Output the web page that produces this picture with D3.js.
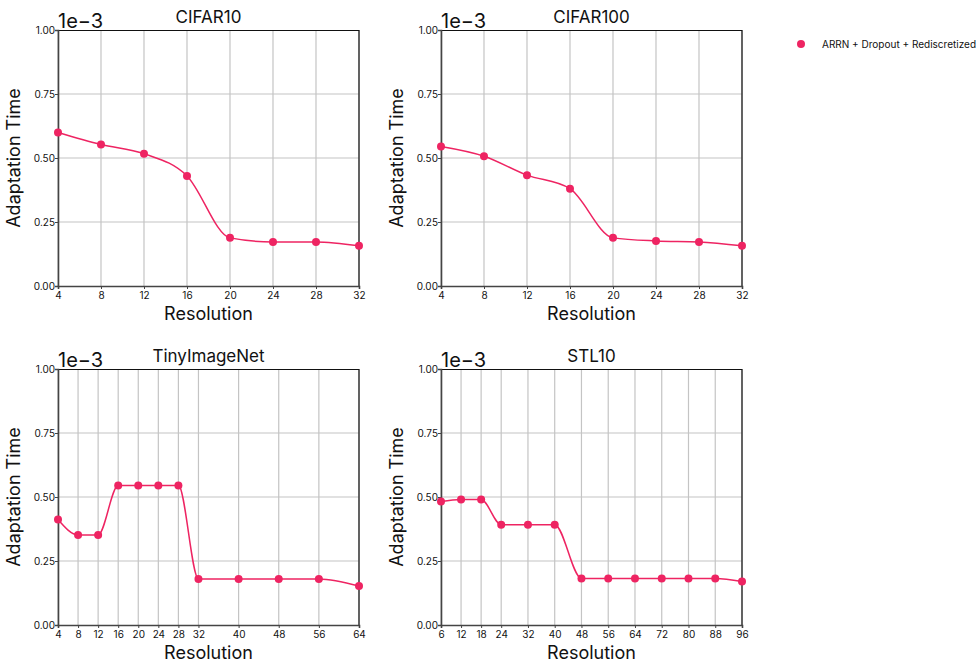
<!DOCTYPE html>
<html>
<head>
<meta charset="utf-8">
<script src="https://cdn.jsdelivr.net/npm/d3@7"></script>
<style>
  body { margin: 0; background: #fff; }
  text { font-family: Inter, "Liberation Sans", sans-serif; fill: #111; }
</style>
</head>
<body>
<div id="chart"></div>
<script>
// Data (values in units of 1e-3)
var cifar10X = [4, 8, 12, 16, 20, 24, 28, 32];
var cifar10Y = [0.600, 0.553, 0.517, 0.430, 0.188, 0.172, 0.172, 0.157];

var cifar100X = [4, 8, 12, 16, 20, 24, 28, 32];
var cifar100Y = [0.545, 0.507, 0.433, 0.380, 0.188, 0.176, 0.172, 0.157];

var tinyX = [4, 8, 12, 16, 20, 24, 28, 32, 40, 48, 56, 64];
var tinyY = [0.412, 0.352, 0.352, 0.545, 0.545, 0.545, 0.545, 0.180, 0.180, 0.180, 0.180, 0.152];

var stlX = [6, 12, 18, 24, 32, 40, 48, 56, 64, 72, 80, 88, 96];
var stlY = [0.482, 0.490, 0.490, 0.392, 0.392, 0.392, 0.182, 0.182, 0.182, 0.182, 0.182, 0.182, 0.170];

var yTicks = [0, 0.25, 0.5, 0.75, 1.0];
var seriesName = "ARRN + Dropout + Rediscretized";
var color = "#ee2462";

var panels = [
  { title: "CIFAR10", xs: cifar10X, ys: cifar10Y, left: 58, top: 30 },
  { title: "CIFAR100", xs: cifar100X, ys: cifar100Y, left: 441, top: 30 },
  { title: "TinyImageNet", xs: tinyX, ys: tinyY, left: 58, top: 369 },
  { title: "STL10", xs: stlX, ys: stlY, left: 441, top: 369 }
];

var plotW = 301, plotH = 256;

var svg = d3.select("#chart")
  .append("svg")
  .attr("width", 979)
  .attr("height", 662);

panels.forEach(function(p) {
  var g = svg.append("g")
    .attr("transform", `translate(${p.left}, ${p.top})`);

  var x = d3.scaleLinear()
    .domain([d3.min(p.xs), d3.max(p.xs)])
    .range([0, plotW]);
  var y = d3.scaleLinear()
    .domain([0, 1])
    .range([plotH, 0]);

  // grid
  g.append("g").selectAll("line")
    .data(p.xs)
    .enter().append("line")
    .attr("x1", d => x(d)).attr("x2", d => x(d))
    .attr("y1", 0).attr("y2", plotH)
    .attr("stroke", "#c4c4c4").attr("stroke-width", 1.2);
  g.append("g").selectAll("line")
    .data(yTicks.slice(1, -1))
    .enter().append("line")
    .attr("x1", 0).attr("x2", plotW)
    .attr("y1", d => y(d)).attr("y2", d => y(d))
    .attr("stroke", "#c4c4c4").attr("stroke-width", 1.2);

  // frame: top and right
  g.append("line").attr("x1", 0).attr("x2", plotW).attr("y1", 0.5).attr("y2", 0.5)
    .attr("stroke", "#111").attr("stroke-width", 1.2);
  g.append("line").attr("x1", plotW).attr("x2", plotW).attr("y1", 0).attr("y2", plotH)
    .attr("stroke", "#111").attr("stroke-width", 1.2);

  // axes
  var xAxis = d3.axisBottom(x).tickValues(p.xs).tickSize(3).tickFormat(d3.format("d"));
  var yAxis = d3.axisLeft(y).tickValues(yTicks).tickSize(3).tickFormat(d3.format(".2f"));

  var gx = g.append("g").attr("transform", `translate(0, ${plotH})`).call(xAxis);
  var gy = g.append("g").call(yAxis);
  [gx, gy].forEach(function(a) {
    a.select(".domain").attr("stroke", "#444").attr("stroke-width", 1.6);
    a.selectAll(".tick line").attr("stroke", "#444");
    a.selectAll(".tick text").style("font-size", "10px").style("fill", "#111")
      .style("font-family", "Inter, 'Liberation Sans', sans-serif");
  });
  gx.selectAll(".tick text").attr("dy", "0.85em").attr("y", 4);
  gy.selectAll(".tick text").attr("x", -3);

  // line + points
  var pts = p.xs.map((d, i) => [d, p.ys[i]]);
  var line = d3.line()
    .x(d => x(d[0]))
    .y(d => y(d[1]))
    .curve(d3.curveMonotoneX);
  g.append("path")
    .datum(pts)
    .attr("d", line)
    .attr("fill", "none")
    .attr("stroke", color)
    .attr("stroke-width", 1.5);
  g.selectAll("circle")
    .data(pts)
    .enter().append("circle")
    .attr("cx", d => x(d[0]))
    .attr("cy", d => y(d[1]))
    .attr("r", 4)
    .attr("fill", color);

  // labels
  g.append("text")
    .attr("x", plotW / 2).attr("y", -7)
    .attr("text-anchor", "middle")
    .style("font-size", "17px")
    .text(p.title);
  g.append("text")
    .attr("x", 0).attr("y", -2)
    .style("font-size", "20px")
    .text("1e\u22123");
  g.append("text")
    .attr("x", plotW / 2).attr("y", plotH + 34)
    .attr("text-anchor", "middle")
    .style("font-size", "18px")
    .text("Resolution");
  g.append("text")
    .attr("transform", "rotate(-90)")
    .attr("x", -plotH / 2).attr("y", -38)
    .attr("text-anchor", "middle")
    .style("font-size", "18px")
    .text("Adaptation Time");
});

// legend
var legend = svg.append("g").attr("transform", "translate(801, 44)");
legend.append("circle").attr("r", 4).attr("fill", color);
legend.append("text").attr("x", 21).attr("y", 3.5)
  .style("font-size", "10px")
  .text(seriesName);
</script>
</body>
</html>
